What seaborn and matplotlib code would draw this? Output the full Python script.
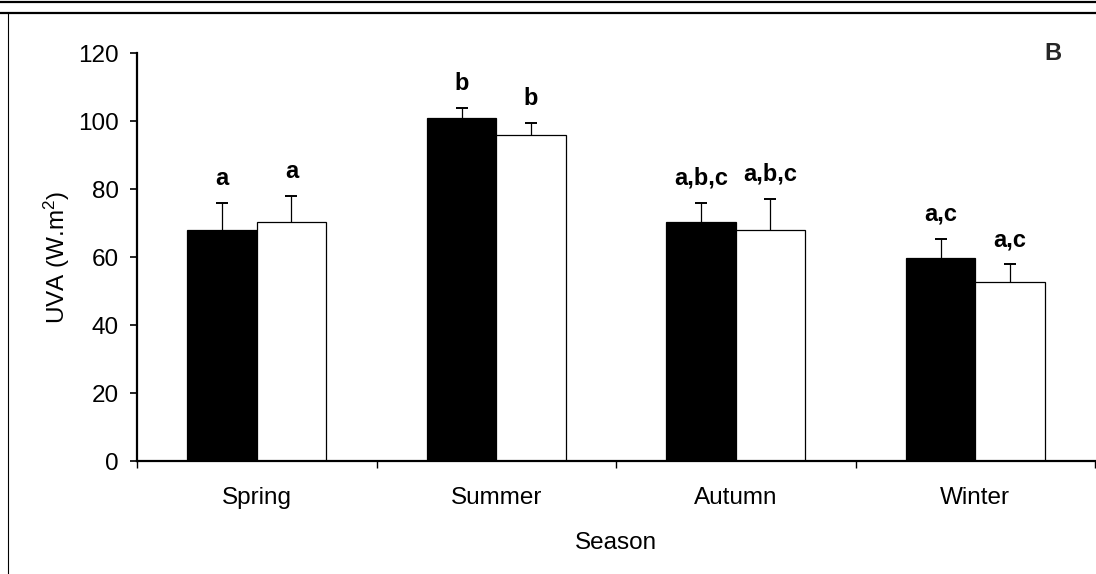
import matplotlib
matplotlib.use("Agg")
import matplotlib.pyplot as plt
import numpy as np
import pandas as pd
import seaborn as sns
from matplotlib.lines import Line2D

# Seasonal UVA irradiance, two series (filled and open bars), mean + upper SE
seasons = ["Spring", "Summer", "Autumn", "Winter"]
filled_means = [67.9, 100.9, 70.3, 59.7]
filled_err = [8.0, 2.9, 5.6, 5.6]
open_means = [70.3, 95.9, 67.9, 52.6]
open_err = [7.6, 3.5, 9.2, 5.3]
filled_letters = ["a", "b", "a,b,c", "a,c"]
open_letters = ["a", "b", "a,b,c", "a,c"]
y_ticks = [0, 20, 40, 60, 80, 100, 120]

sns.set_theme(style="ticks")
plt.rcParams["font.family"] = ["Liberation Sans", "DejaVu Sans"]
plt.rcParams["mathtext.fontset"] = "custom"
plt.rcParams["mathtext.rm"] = "Liberation Sans"
plt.rcParams["mathtext.it"] = "Liberation Sans:italic"
plt.rcParams["mathtext.bf"] = "Liberation Sans:bold"

df = pd.DataFrame({
    "Season": seasons * 2,
    "series": ["filled"] * 4 + ["open"] * 4,
    "UVA": filled_means + open_means,
})

W, H = 1096, 574
fig = plt.figure(figsize=(W / 100, H / 100), dpi=100)
fig.patch.set_facecolor("white")
ax = fig.add_axes([137 / W, 113 / H, 958 / W, 408 / H])

sns.barplot(data=df, x="Season", y="UVA", hue="series",
            hue_order=["filled", "open"], order=seasons,
            palette={"filled": "black", "open": "white"},
            width=0.58, edgecolor="black", linewidth=0.9,
            errorbar=None, legend=False, ax=ax)

tick_fs = 17.5
letter_fs = 17
for cont, errs, letters in zip(ax.containers,
                               [filled_err, open_err],
                               [filled_letters, open_letters]):
    for bar, e, lab in zip(cont, errs, letters):
        x = bar.get_x() + bar.get_width() / 2
        h = bar.get_height()
        _, caps, _ = ax.errorbar(x, h, yerr=[[0], [e]], fmt="none",
                                 ecolor="black", elinewidth=0.9, capsize=4,
                                 capthick=1.4, zorder=4)
        # keep only the upper cap
        for cap in caps:
            if np.isclose(cap.get_ydata()[0], h):
                cap.set_visible(False)
        ax.text(x, h + e + 7.2, lab, ha="center", va="center",
                fontsize=letter_fs, fontweight="bold", color="black")

ax.set_ylim(0, 120)
ax.set_yticks(y_ticks)
ax.set_xlim(-0.5, 3.5)
ax.set_xticks([-0.5, 0.5, 1.5, 2.5, 3.5])
ax.set_xticklabels([])
ax.set_xticks([0, 1, 2, 3], minor=True)
ax.set_xticklabels(seasons, minor=True)

ax.tick_params(axis="y", which="major", left=True, direction="out",
               length=5, width=1.2, color="black", pad=8,
               labelsize=tick_fs, labelcolor="black")
ax.tick_params(axis="x", which="major", bottom=True, direction="out",
               length=5, width=1.0, color="black")
ax.tick_params(axis="x", which="minor", bottom=True, length=0, pad=19,
               labelsize=tick_fs, labelcolor="black")

sns.despine(ax=ax)
for side in ("left", "bottom"):
    ax.spines[side].set_linewidth(1.6)
    ax.spines[side].set_color("black")

ax.set_ylabel("UVA (W.m$^{2}$)", fontsize=tick_fs, color="black")
ax.yaxis.set_label_coords(-0.068, 0.5)
ax.set_xlabel("Season", fontsize=tick_fs, color="black", labelpad=16)

ax.text((1053 - 137) / 958, 1.0, "B", transform=ax.transAxes,
        ha="center", va="center", fontsize=letter_fs, fontweight="bold")

# Page rules around the panel
fig.add_artist(Line2D([0, 1], [1 - 1.5 / H] * 2, transform=fig.transFigure,
                      color="black", lw=1.6))
fig.add_artist(Line2D([0, 1], [1 - 13 / H] * 2, transform=fig.transFigure,
                      color="black", lw=1.6))
fig.add_artist(Line2D([7.5 / W] * 2, [0, 1 - 13 / H], transform=fig.transFigure,
                      color="black", lw=0.8))

fig.savefig("out.png", dpi=100, facecolor="white")
